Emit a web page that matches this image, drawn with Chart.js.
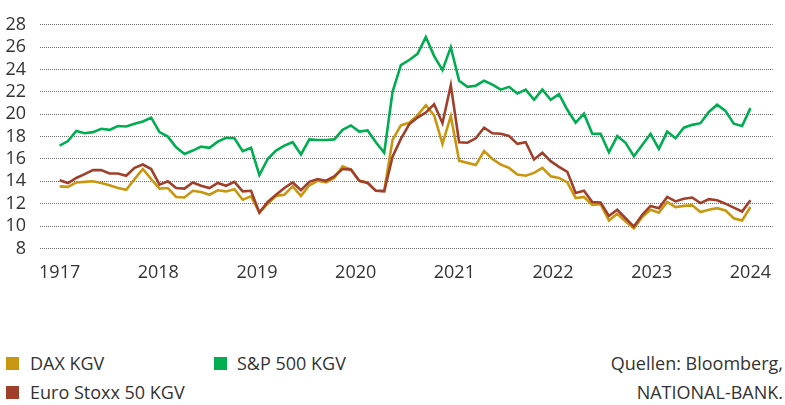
<!DOCTYPE html>
<html>
<head>
<meta charset="utf-8">
<script src="https://cdn.jsdelivr.net/npm/chart.js@4.4.1/dist/chart.umd.min.js"></script>
<style>
  body { margin: 0; background: #fff; font-family: 'Open Sans', sans-serif; color: #333; }
  #wrap { position: relative; width: 785px; height: 405px; }
  #box { position: absolute; left: 0; top: 0; width: 785px; height: 300px; }
  .key { position: absolute; width: 13px; height: 13px; }
  .txt { position: absolute; font-size: 18px; line-height: 22px; white-space: nowrap; }
</style>
</head>
<body>
<div id="wrap">
  <div id="box"><canvas id="myChart"></canvas></div>
  <div class="key" style="left:6px; top:357px; background:#c8960f"></div>
  <div class="txt" style="left:30px; top:352px">DAX KGV</div>
  <div class="key" style="left:214px; top:357px; background:#00ad50"></div>
  <div class="txt" style="left:237px; top:352px">S&amp;P 500 KGV</div>
  <div class="key" style="left:6px; top:386px; background:#a0402a"></div>
  <div class="txt" style="left:30px; top:381px">Euro Stoxx 50 KGV</div>
  <div class="txt" style="right:2px; top:352px; text-align:right">Quellen: Bloomberg,</div>
  <div class="txt" style="right:2px; top:381px; text-align:right">NATIONAL-BANK.</div>
</div>
<script>
'use strict';

// year labels as printed on the original (incl. the "1917" typo)
const tickLabels = ['1917', '2018', '2019', '2020', '2021', '2022', '2023', '2024'];

// monthly KGV values, Jan 2017 .. Dec 2023
const daxKgv = [
  13.55, 13.5, 13.9, 13.95, 14.0, 13.85, 13.65, 13.4, 13.25, 14.2, 15.1, 14.2,
  13.35, 13.4, 12.6, 12.55, 13.15, 13.05, 12.8, 13.2, 13.1, 13.3, 12.35, 12.65,
  11.2, 12.0, 12.7, 12.8, 13.55, 12.7, 13.65, 14.05, 13.9, 14.3, 15.35, 15.05,
  14.05, 13.9, 13.15, 13.15, 17.7, 19.0, 19.25, 19.9, 20.8, 19.9, 17.35, 19.85,
  15.85, 15.65, 15.45, 16.7, 16.0, 15.5, 15.2, 14.6, 14.5, 14.75, 15.2, 14.45,
  14.3, 13.9, 12.5, 12.6, 11.9, 11.95, 10.5, 11.1, 10.4, 9.8, 10.8, 11.45,
  11.2, 12.15, 11.7, 11.8, 11.85, 11.25, 11.45, 11.6, 11.4, 10.7, 10.5, 11.7
];
const spKgv = [
  17.2, 17.6, 18.5, 18.3, 18.4, 18.7, 18.6, 18.95, 18.9, 19.15, 19.35, 19.7,
  18.4, 18.0, 17.05, 16.45, 16.75, 17.1, 17.0, 17.55, 17.9, 17.85, 16.7, 17.0,
  14.55, 16.0, 16.75, 17.2, 17.5, 16.4, 17.75, 17.7, 17.7, 17.75, 18.6, 19.0,
  18.45, 18.55, 17.5, 16.55, 22.0, 24.4, 24.85, 25.4, 26.9, 25.2, 23.95, 26.0,
  23.0, 22.45, 22.55, 23.0, 22.65, 22.2, 22.45, 21.85, 22.2, 21.3, 22.2, 21.3,
  21.8, 20.4, 19.25, 20.05, 18.25, 18.25, 16.6, 18.05, 17.45, 16.25, 17.25, 18.25,
  16.9, 18.45, 17.85, 18.8, 19.05, 19.2, 20.2, 20.85, 20.3, 19.15, 18.95, 20.55
];
const euroStoxxKgv = [
  14.1, 13.85, 14.3, 14.65, 15.0, 15.0, 14.7, 14.7, 14.5, 15.2, 15.5, 15.1,
  13.7, 14.0, 13.4, 13.35, 13.9, 13.6, 13.4, 13.85, 13.6, 13.95, 13.1, 13.15,
  11.2, 12.15, 12.8, 13.4, 13.9, 13.2, 13.95, 14.2, 14.05, 14.45, 15.1, 15.05,
  14.05, 13.85, 13.15, 13.1, 16.2, 17.8, 19.1, 19.7, 20.15, 20.9, 19.2, 22.6,
  17.5, 17.45, 17.85, 18.8, 18.3, 18.25, 18.05, 17.35, 17.5, 15.95, 16.55, 15.8,
  15.3, 14.85, 12.95, 13.15, 12.15, 12.1, 10.9, 11.45, 10.7, 9.95, 11.0, 11.8,
  11.6, 12.6, 12.2, 12.45, 12.55, 12.05, 12.4, 12.3, 12.0, 11.65, 11.3, 12.3
];

const lastIdx = daxKgv.length - 1;
// year ticks spread evenly from first to last point, like the original
const tickPos = tickLabels.map((_, k) => k * lastIdx / (tickLabels.length - 1));

function toPoints(values) {
  return values.map((v, i) => ({ x: i, y: v }));
}

function makeLine(label, values, color, order) {
  return {
    label: label,
    data: toPoints(values),
    borderColor: color,
    backgroundColor: color,
    borderWidth: 2.6,
    pointRadius: 0,
    tension: 0,
    order: order,
  };
}

const ctx = document.getElementById('myChart');
const tickFont = { family: "'Open Sans', sans-serif", size: 18 };

new Chart(ctx, {
  type: 'line',
  data: {
    datasets: [
      makeLine('S&P 500 KGV', spKgv, '#00ad50', 1),
      makeLine('Euro Stoxx 50 KGV', euroStoxxKgv, '#a0402a', 2),
      makeLine('DAX KGV', daxKgv, '#c8960f', 3),
    ],
  },
  options: {
    responsive: true,
    maintainAspectRatio: false,
    animation: false,
    layout: { padding: { top: 17, bottom: 2, left: 0, right: 0 } },
    plugins: { legend: { display: false }, tooltip: { enabled: false } },
    scales: {
      x: {
        type: 'linear',
        min: -2.36,
        max: lastIdx + 2.68,
        grid: { display: false, drawTicks: false },
        border: { display: false },
        afterBuildTicks: (scale) => {
          scale.ticks = tickPos.map(v => ({ value: v }));
        },
        ticks: {
          padding: 14,
          maxRotation: 0,
          autoSkip: false,
          color: '#333',
          font: tickFont,
          callback: (value, index) => tickLabels[index],
        },
      },
      y: {
        min: 8,
        max: 28,
        afterFit: (scale) => { scale.width = 40; },
        grid: { color: '#6e6e6e', lineWidth: 1, drawTicks: false },
        border: { display: false, dash: [1, 1] },
        ticks: {
          stepSize: 2,
          autoSkip: false,
          padding: 14,
          color: '#333',
          font: tickFont,
        },
      },
    },
  },
});
</script>
</body>
</html>
